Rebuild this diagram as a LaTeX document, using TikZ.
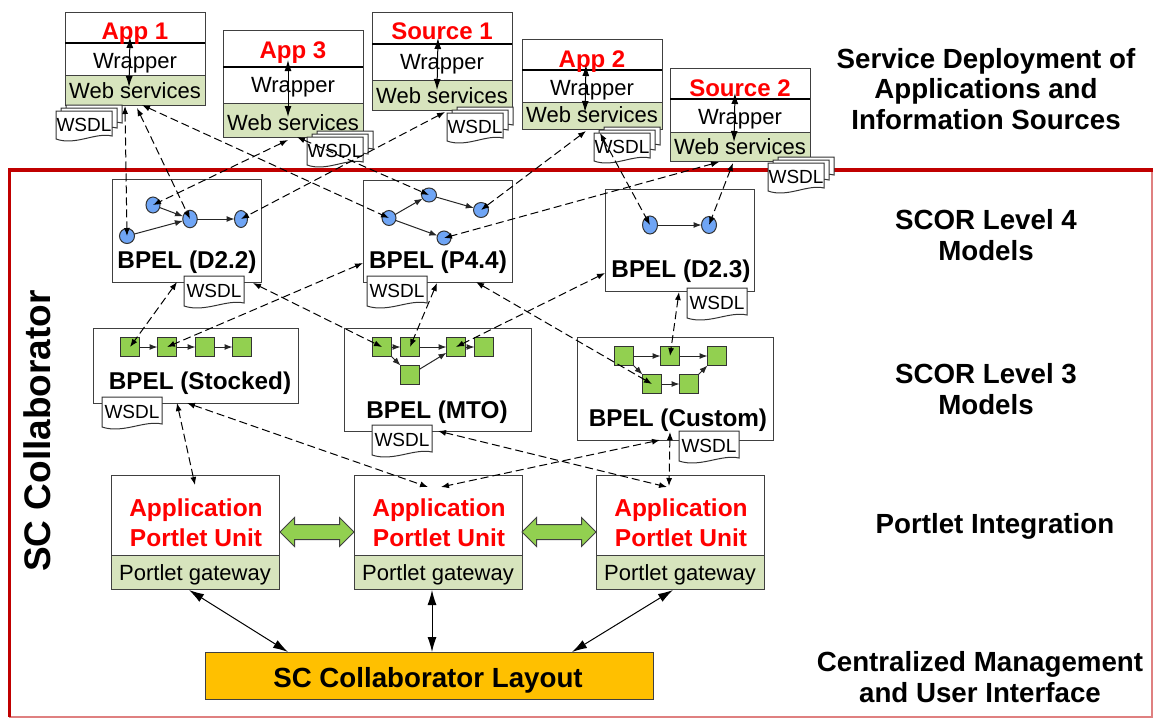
\documentclass[tikz,border=0pt]{standalone}
\usepackage{fontspec}
\setmainfont{Liberation Sans}
\usetikzlibrary{arrows.meta,shapes.arrows,shapes.geometric}

\definecolor{framered}{HTML}{C00000}
\definecolor{wsgreen}{HTML}{D7E4BD}
\definecolor{taskgreen}{HTML}{92D050}
\definecolor{taskblue}{HTML}{6FA5F5}
\definecolor{layoutgold}{HTML}{FFC000}

\tikzset{
        box/.style={draw=black!75,line width=1pt,fill=white,anchor=north west,inner sep=0,outer sep=0},
        wsbox/.style={box,fill=wsgreen},
        apptext/.style={anchor=base,text=red,font=\fontsize{24}{26}\selectfont\bfseries,inner sep=0},
        plaintext/.style={anchor=base,font=\fontsize{22}{26}\selectfont,inner sep=0},
        bpeltext/.style={anchor=base,font=\fontsize{24.3}{28}\selectfont\bfseries,inner sep=0},
        unittext/.style={text=red,align=center,font=\fontsize{24.5}{30}\selectfont\bfseries,inner sep=0},
        sidetext/.style={align=center,font=\fontsize{27.7}{30.5}\selectfont\bfseries,inner sep=0},
        wsdltext/.style={font=\fontsize{19}{22}\selectfont,inner sep=0},
        wsdlsheet/.style={draw=black!80,line width=1pt,fill=white},
        circ/.style={ellipse,draw=black!80,fill=taskblue,line width=1pt,inner sep=0,outer sep=0},
        sq/.style={rectangle,draw=black!80,fill=taskgreen,line width=1pt,inner sep=0,minimum size=19pt,outer sep=0},
        flow/.style={-{Latex[length=8pt,width=6pt]},line width=1pt,black!85},
        dashlink/.style={{Latex[length=8pt,width=6pt]}-{Latex[length=8pt,width=6pt]},line width=1pt,dash pattern=on 8pt off 4pt},
        wraplink/.style={{Latex[length=11pt,width=7pt]}-{Latex[length=11pt,width=7pt]},line width=1pt},
        gatelink/.style={{Latex[length=15pt,width=9pt]}-{Latex[length=15pt,width=9pt]},line width=1pt},
        greenarrow/.style={double arrow,draw=black!75,fill=taskgreen,line width=1pt,inner sep=0,
                text height=14pt,text depth=0pt,minimum height=74pt,double arrow head extend=7pt},
}

\newcommand{\wsdlpage}[4]{% x, y, w, h
        \draw[wsdlsheet] (#1,#2)--(#1+#3,#2)--(#1+#3,#2+#4-6)
                .. controls (#1+.7*#3,#2+#4-10) and (#1+.35*#3,#2+#4+4) .. (#1,#2+#4-3)--cycle;
}

\begin{document}
\begin{tikzpicture}[>=latex,x=1pt,y=-1pt]
        \useasboundingbox (0,0) rectangle (1153,718);

        \draw[framered!50,line width=1.4pt] (9,717)--(1152,717)--(1152,170);
        \draw[framered,line width=3.4pt] (1153,170)--(9.5,170)--(9.5,717);

        \node[rotate=90,font=\fontsize{37}{40}\selectfont\bfseries,inner sep=0] (sc) at (37,431){SC Collaborator};

        % services on top
        \foreach \nm/\x/\ya/\yb/\yc/\yd/\ytt/\ttl in {
                appone/65/12/43/75/105/39/App 1,
                appthree/223/30/67/103/137/58/App 3,
                srcone/372/12/44/80/110/39/Source 1,
                apptwo/522/39/70/102/129/67/App 2,
                srctwo/670/68/99/132/161/96/Source 2}
        {
            \node[box,minimum width=140,minimum height={\yb-\ya}] (\nm t) at (\x,\ya){};
            \node[box,minimum width=140,minimum height={\yc-\yb}] (\nm w) at (\x,\yb){};
            \node[wsbox,minimum width=140,minimum height={\yd-\yc}] (\nm s) at (\x,\yc){};
            \draw[line width=1.4pt] (\nm t.south west)--(\nm t.south east);
            \node[apptext] (\nm tl) at (\x+70,\ytt){\ttl};
            \node[plaintext] (\nm wl) at (\x+70,\yb+25.5){Wrapper};
            \node[plaintext] (\nm sl) at (\x+70,\yd-7){Web services};
        }

        % stacked wsdl
        \foreach \nm/\x/\y in {appone/56/111,appthree/307/137,srcone/447/113,apptwo/594/133,srctwo/768/163}
        {
            \wsdlpage{\x+10}{\y-6}{56}{24}
            \wsdlpage{\x+5}{\y-3}{56}{26}
            \wsdlpage{\x}{\y}{56}{31}
            \node[wsdltext] (wsdl\nm) at (\x+28,\y+14){WSDL};
        }

        % bpel boxes
        \foreach \nm/\x/\y/\w/\h/\tx/\ty/\ttl in {
                dtwotwo/112/179/149/103/187/268/BPEL (D2.2),
                pfour/363/180/149/102/438/268/BPEL (P4.4),
                dtwothree/605/189/149/102/681/277/BPEL (D2.3),
                stocked/93/328/205/75/200/389/BPEL (Stocked),
                mto/344/328/187/103/437/418/BPEL (MTO),
                custom/577/337/196/103/678/426/BPEL (Custom)}
        {
            \node[box,minimum width=\w,minimum height=\h] (\nm) at (\x,\y){};
            \node[bpeltext] (\nm l) at (\tx,\ty){\ttl};
        }

        % single wsdl
        \foreach \nm/\x/\y in {dtwotwo/184/276,pfour/367/276,dtwothree/687/288,stocked/102/397,mto/372/425,custom/679/431}
        {
            \wsdlpage{\x}{\y}{60}{33}
            \node[wsdltext] (wsdl\nm) at (\x+30,\y+15){WSDL};
        }

        % tasks
        \foreach \nm/\x/\y/\w/\h in {ca/127/236/15/15,cb/153/205/14/16,cc/190/219/14.5/17.5,cd/241/219/13/17,ce/389/218/14/15,cf/429/195/15/14,cg/481/210/15/15,ch/444/238/14/14,ci/650/225/15/18,cj/709/225/15/17}
        {
            \node[circ,minimum width=\w,minimum height=\h] (\nm) at (\x,\y){};
        }
        \foreach \nm/\x/\y in {sa/130/347,sb/167/347,sc/205/347,sd/242/347,ma/382/347,mb/410/347,mc/456/347,md/484/347,me/410/375,ka/624/356,kb/670/356,kc/717/356,kd/652/384,ke/689/384}
        {
            \node[sq] (\nm) at (\x,\y){};
        }
        \foreach \a/\b in {ca/cc,cb/cc,cc/cd,ce/cf,ce/ch,cf/cg,ci/cj,sa/sb,sb/sc,sc/sd,ma/mb,mb/mc,mc/md,ma/me,me/mc,ka/kb,kb/kc,ka/kd,kd/ke,ke/kc}
        {
            \draw[flow] (\a)--(\b);
        }

        % portlet units
        \foreach \nm/\x in {ua/111,ub/354,uc/596}
        {
            \node[box,minimum width=168,minimum height=80] (\nm) at (\x,475){};
            \node[wsbox,minimum width=168,minimum height=34] (\nm g) at (\x,555){};
            \node[unittext] (\nm l) at (\x+85,523){Application\\Portlet Unit};
            \node[plaintext] (\nm gl) at (\x+84,580){Portlet gateway};
        }
        \node[greenarrow] (gab) at (317,532){};
        \node[greenarrow] (gbc) at (559,532){};

        \node[box,fill=layoutgold,minimum width=448,minimum height=47] (layout) at (205,652){};
        \node[anchor=base,font=\fontsize{27.7}{30}\selectfont\bfseries,inner sep=0] (layoutl) at (428,687){SC Collaborator Layout};

        % side labels
        \node[sidetext] (lbla) at (986,89){Service Deployment of\\Applications and\\Information Sources};
        \node[sidetext] (lblb) at (986,235){SCOR Level 4\\Models};
        \node[sidetext] (lblc) at (986,389){SCOR Level 3\\Models};
        \node[sidetext] (lbld) at (995,526){Portlet Integration};
        \node[sidetext] (lble) at (980,677){Centralized Management\\and User Interface};

        % link ends
        \foreach \nm/\x/\y in {
                wa/130/37,wb/129/87,wc/288/60,wd/288/117,we/438/38,wf/437/90,wg/586/65,wh/585/112,wi/735/93,wj/734/142,
                pa/125/106,pb/137/108,pc/142/105,pd/288/140,pe/297/137,pf/445/112,pg/586/131,ph/719/162,pi/600/133,pj/733/163,
                qa/177/282,qb/363/263,qc/253/283,qd/437/283,qe/605/273,qf/476/282,qg/679/292,
                ra/177/403,rb/195/485,rc/187/403,rd/428/487,re/438/431,rf/667/487,rg/660/440,rh/441/487,ri/670/432,rj/669/486,
                ga/189/590,gb/288/652,gc/432/590,gd/432/652,ge/673/590,gf/572/652}
        {
            \coordinate (\nm) at (\x,\y);
        }

        \foreach \a/\b in {wa/wb,wc/wd,we/wf,wg/wh,wi/wj}
        {
            \draw[wraplink] (\a)--(\b);
        }
        \foreach \a/\b in {pa/ca,pb/cc,pc/ce,pd/cb,pe/cf,pf/cd,pg/cg,ph/ch,pi/ci,pj/cj,qa/sa,qb/sb,qc/ma,qd/mb,qe/mc,qf/kd,qg/kb,ra/rb,rc/rd,re/rf,rg/rh,ri/rj}
        {
            \draw[dashlink] (\a.center)--(\b.center);
        }
        \foreach \a/\b in {ga/gb,gc/gd,ge/gf}
        {
            \draw[gatelink] (\a)--(\b);
        }
\end{tikzpicture}
\end{document}
